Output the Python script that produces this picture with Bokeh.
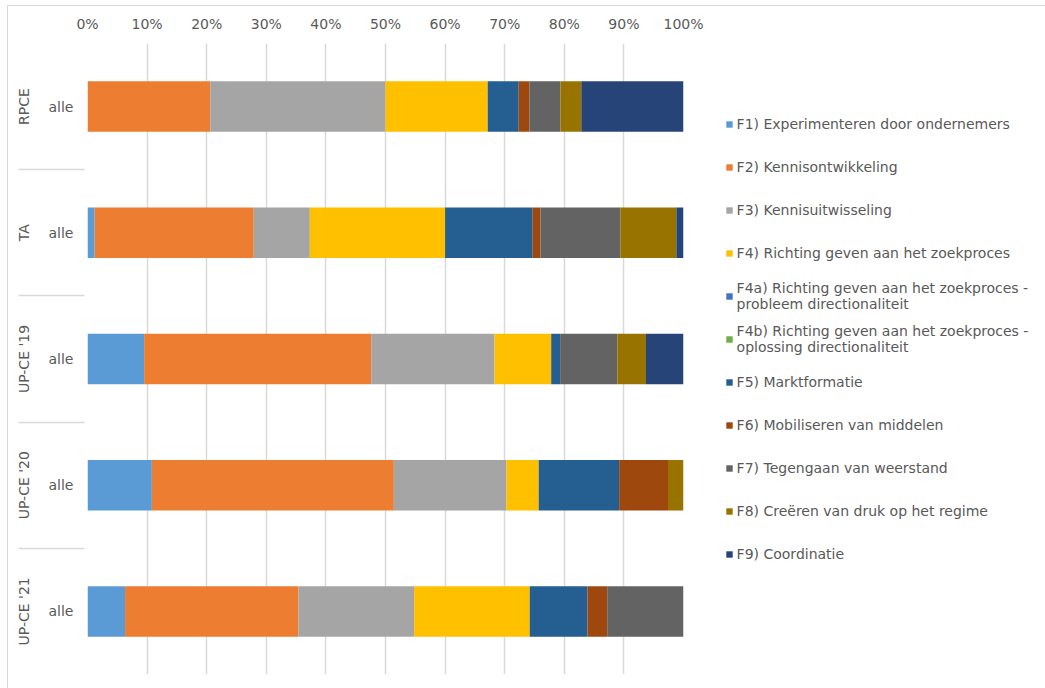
from bokeh.plotting import figure
from bokeh.models import (FactorRange, Range1d, Legend, LegendItem, FixedTicker,
                          PrintfTickFormatter, ColumnDataSource, CategoricalAxis)
from bokeh.embed import file_html
from bokeh.resources import INLINE

groups = ["RPCE", "TA", "UP-CE '19", "UP-CE '20", "UP-CE '21"]
subgroup = "alle"

series_labels = [
    "F1) Experimenteren door ondernemers",
    "F2) Kennisontwikkeling",
    "F3) Kennisuitwisseling",
    "F4) Richting geven aan het zoekproces",
    "F4a) Richting geven aan het zoekproces -\nprobleem directionaliteit",
    "F4b) Richting geven aan het zoekproces -\noplossing directionaliteit",
    "F5) Marktformatie",
    "F6) Mobiliseren van middelen",
    "F7) Tegengaan van weerstand",
    "F8) Creëren van druk op het regime",
    "F9) Coordinatie",
]
series_keys = ["f1", "f2", "f3", "f4", "f4a", "f4b", "f5", "f6", "f7", "f8", "f9"]
colors = ["#5B9BD5", "#ED7D31", "#A5A5A5", "#FFC000", "#4472C4", "#70AD47",
          "#255E91", "#9E480E", "#636363", "#997300", "#264478"]

# percentages per group (RPCE, TA, UP-CE '19, UP-CE '20, UP-CE '21)
f1 = [0.0, 1.2, 9.5, 10.8, 6.3]
f2 = [20.6, 26.7, 38.1, 40.6, 29.1]
f3 = [29.4, 9.4, 20.7, 18.9, 19.4]
f4 = [17.15, 22.7, 9.5, 5.4, 19.4]
f4a = [0.0, 0.0, 0.0, 0.0, 0.0]
f4b = [0.0, 0.0, 0.0, 0.0, 0.0]
f5 = [5.2, 14.7, 1.5, 13.5, 9.7]
f6 = [1.8, 1.3, 0.0, 8.2, 3.3]
f7 = [5.2, 13.4, 9.6, 0.0, 12.8]
f8 = [3.5, 9.4, 4.8, 2.6, 0.0]
f9 = [17.15, 1.2, 6.3, 0.0, 0.0]

x_ticks = [0, 10, 20, 30, 40, 50, 60, 70, 80, 90, 100]

factors = [(g, subgroup) for g in groups]
data = dict(y=factors, f1=f1, f2=f2, f3=f3, f4=f4, f4a=f4a, f4b=f4b,
            f5=f5, f6=f6, f7=f7, f8=f8, f9=f9)
source = ColumnDataSource(data)

TEXT = "#595959"
FONT = "DejaVu Sans"

p = figure(frame_width=596, frame_height=631, output_backend="svg", toolbar_location=None,
           y_range=FactorRange(*reversed(factors), group_padding=0, factor_padding=0,
                               range_padding=0),
           x_range=Range1d(0, 100), x_axis_location="above",
           min_border_left=79, min_border_right=0, min_border_top=37,
           min_border_bottom=14, margin=(5, 0, 0, 7),
           styles={"border-left": "1px solid #D9D9D9", "border-top": "1px solid #D9D9D9"})
p.outline_line_color = None

renderers = p.hbar_stack(series_keys, y="y", height=0.4, color=colors,
                         line_color=None, source=source)

# x axis
p.xaxis.ticker = FixedTicker(ticks=x_ticks)
p.xaxis.formatter = PrintfTickFormatter(format="%d%%")
p.xaxis.axis_line_color = None
p.xaxis.major_tick_line_color = None
p.xaxis.major_tick_out = 0
p.xaxis.minor_tick_line_color = None
p.xaxis.major_label_text_font = FONT
p.xaxis.major_label_text_font_size = "14px"
p.xaxis.major_label_text_color = TEXT
p.xaxis.major_label_standoff = 12

p.xgrid.ticker = FixedTicker(ticks=x_ticks)
p.xgrid.grid_line_color = "#D9D9D9"
p.xgrid.grid_line_width = 1.5
p.ygrid.grid_line_color = None

# y axis (nested categories)
p.yaxis.axis_line_color = None
p.yaxis.major_tick_line_color = None
p.yaxis.major_tick_out = 0
p.yaxis.minor_tick_line_color = None
p.yaxis.major_label_text_font = FONT
p.yaxis.major_label_text_font_size = "14px"
p.yaxis.major_label_text_color = TEXT
p.yaxis.major_label_standoff = 14
p.yaxis.group_text_font = FONT
p.yaxis.group_text_font_size = "14px"
p.yaxis.group_text_font_style = "normal"
p.yaxis.group_text_color = TEXT
p.yaxis.group_label_orientation = "vertical"
p.yaxis.separator_line_color = "#D9D9D9"
p.yaxis.separator_line_width = 1.5

# blank spacer between plot area and legend
p.extra_y_ranges = {"spacer": FactorRange(factors=[" "])}
spacer = CategoricalAxis(y_range_name="spacer",
                         major_tick_out=43, major_tick_in=0, major_tick_line_color=None,
                         minor_tick_out=0, minor_tick_line_color=None,
                         axis_line_color=None, major_label_standoff=0,
                         major_label_text_font_size="1px",
                         major_label_text_color=None)
p.add_layout(spacer, "right")

items = [LegendItem(label=lbl, renderers=[r]) for lbl, r in zip(series_labels, renderers)]
legend = Legend(items=items, location=(-248, 104), padding=0, margin=0,
                label_text_font=FONT, label_text_font_size="14px",
                label_text_color=TEXT, glyph_width=8, glyph_height=8,
                label_height=32, spacing=11, label_standoff=4,
                border_line_color=None, background_fill_alpha=0)
p.add_layout(legend, "right")

open("out.html", "w").write(file_html(p, INLINE))
